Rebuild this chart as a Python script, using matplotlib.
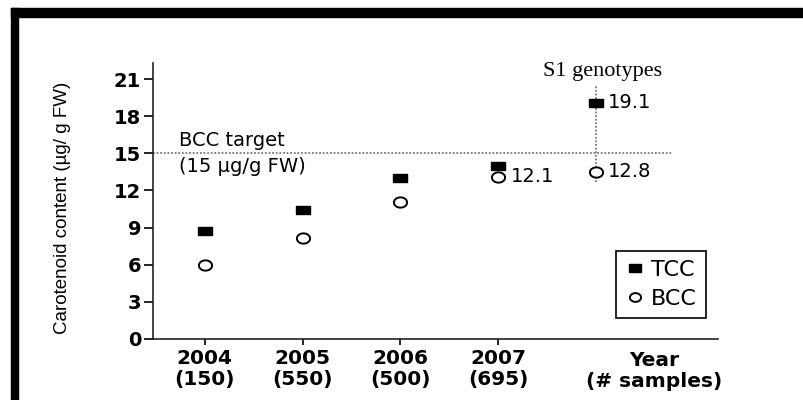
import numpy as np
import matplotlib
matplotlib.use("Agg")
import matplotlib.pyplot as plt
from matplotlib.patches import Rectangle

# values
groups = ["2004\n(150)", "2005\n(550)", "2006\n(500)", "2007\n(695)"]
tcc = [8.7, 10.4, 13.0, 14.0, 19.1]
bcc = [6.0, 8.2, 11.1, 13.1, 13.5]
x_pos = [0, 1, 2, 3, 4]
yticks = [0, 3, 6, 9, 12, 15, 18, 21]
target = 15
value_labels = {("bcc", 3): "12.1", ("tcc", 4): "19.1", ("bcc", 4): "12.8"}

# marker shapes: wide rectangle and wide ellipse (the original is stretched)
rect_marker = [(-1, -0.64), (1, -0.64), (1, 0.64), (-1, 0.64), (-1, -0.64)]
ang = np.linspace(0, 2 * np.pi, 40)
ellipse_marker = list(zip(np.cos(ang), 0.78 * np.sin(ang)))

fig = plt.figure(figsize=(8.04, 4.0), dpi=100)
ax = fig.add_axes([0.1903, 0.1525, 0.7027, 0.69])

ax.hlines(target, -0.53, 4.79, colors="#777777", linestyles=(0, (1, 1)), linewidth=1.3)
ax.vlines(x_pos[4], 12.7, 20.5, colors="#777777", linestyles=(0, (1, 1)), linewidth=1.3)

ax.plot(x_pos, tcc, linestyle="none", marker=rect_marker, markersize=10,
        color="black", label="TCC")
ax.plot(x_pos, bcc, linestyle="none", marker=ellipse_marker, markersize=9.5,
        markerfacecolor="white", markeredgecolor="black", markeredgewidth=1.4,
        label="BCC")

# value labels next to points
for (series, i), txt in value_labels.items():
    yv = tcc[i] if series == "tcc" else bcc[i]
    ax.annotate(txt, (x_pos[i], yv), xytext=(9, 0), textcoords="offset points",
                va="center", ha="left", fontsize=14, family="DejaVu Sans")

ax.text(-0.26, target + 0.25, "BCC target", ha="left", va="bottom",
        fontsize=14, family="DejaVu Sans")
ax.text(-0.26, target - 0.3, "(15 \u00b5g/g FW)", ha="left", va="top",
        fontsize=14, family="DejaVu Sans")
ax.text(4.07, 21.6, "S1 genotypes", ha="center", va="center",
        fontsize=16, family=["Liberation Serif", "DejaVu Serif"])

ax.set_xlim(-0.53, 5.25)
ax.set_ylim(0, 22.3)
ax.set_yticks(yticks)
ax.set_yticklabels([str(v) for v in yticks], fontsize=14, fontweight="bold",
                   family="DejaVu Sans")
ax.set_xticks(x_pos[:4])
ax.set_xticklabels(groups, fontsize=14.5, fontweight="bold", family="DejaVu Sans",
                   linespacing=1.1)
ax.text(4.6, -0.045, "Year\n(# samples)", transform=ax.get_xaxis_transform(),
        ha="center", va="top", fontsize=14.5, fontweight="bold",
        family="DejaVu Sans", linespacing=1.1)

ax.set_ylabel("Carotenoid content (\u00b5g/ g FW)", fontsize=13.5,
              family="Liberation Sans")
ax.yaxis.set_label_coords(-0.145, 0.475)

for side in ["top", "right"]:
    ax.spines[side].set_visible(False)
for side in ["left", "bottom"]:
    ax.spines[side].set_linewidth(1.2)
    ax.spines[side].set_color("#222222")
ax.tick_params(axis="y", direction="out", length=6.5, width=1.2, pad=2)
ax.tick_params(axis="x", direction="out", length=4.5, width=1.2, pad=3)

leg = ax.legend(loc="lower right", bbox_to_anchor=(0.979, 0.076), fancybox=False,
                edgecolor="black", framealpha=1, borderaxespad=0, markerscale=0.85,
                handlelength=0.9, handletextpad=0.3, borderpad=0.4, labelspacing=0.4,
                prop={"family": "DejaVu Sans", "size": 16})
leg.get_frame().set_linewidth(1.2)

# black frame of the scanned figure (top and left bands)
fig.patches.append(Rectangle((11 / 804, 1 - 17 / 400), 793 / 804, 9 / 400,
                             transform=fig.transFigure, color="black", zorder=10))
fig.patches.append(Rectangle((11 / 804, 0), 7 / 804, 392 / 400,
                             transform=fig.transFigure, color="black", zorder=10))

fig.savefig("out.png", dpi=100)
